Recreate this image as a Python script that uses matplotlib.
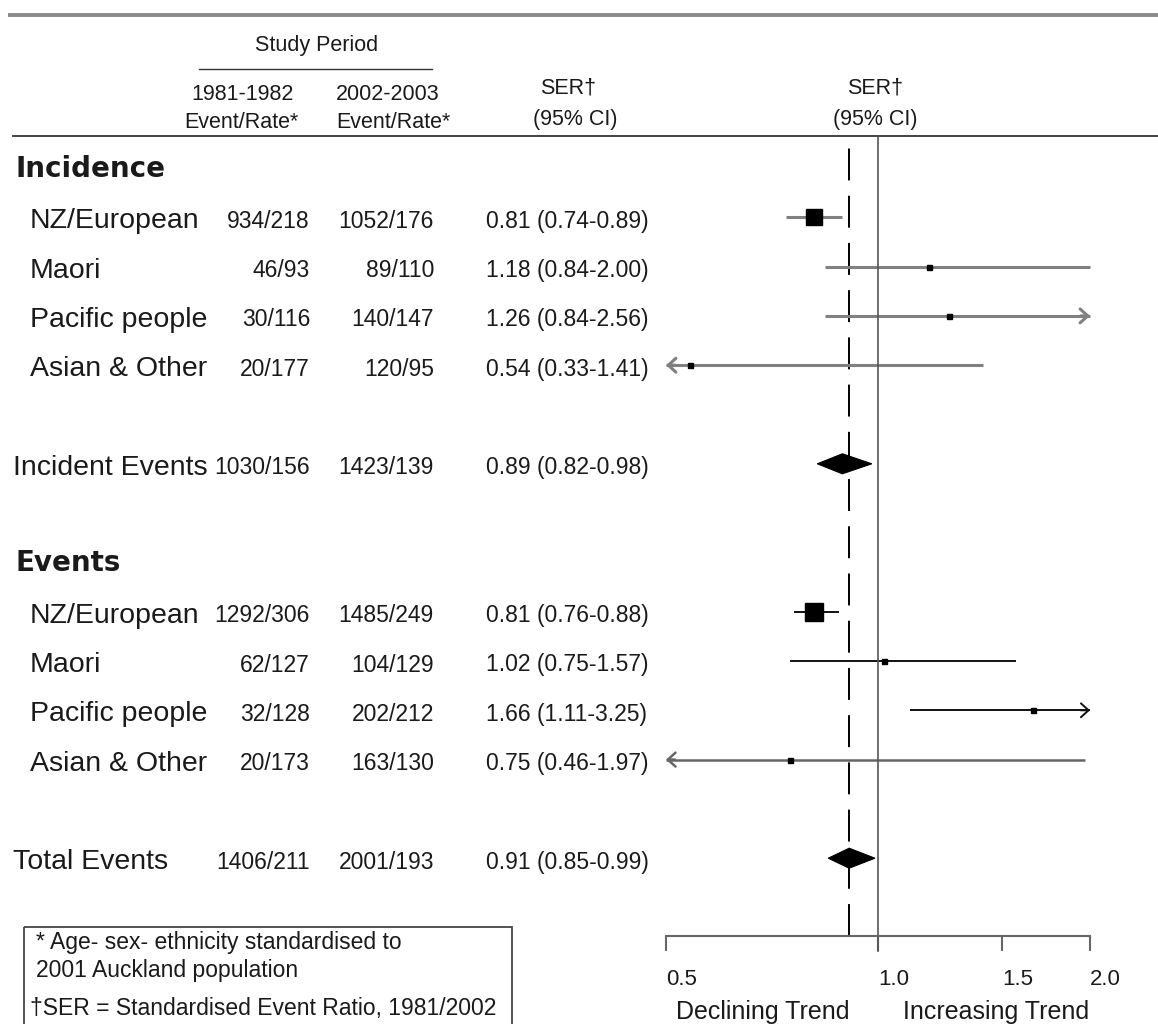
import matplotlib

matplotlib.use("Agg")
import matplotlib.pyplot as plt  # noqa: E402
import numpy as np  # noqa: E402
from matplotlib.patches import Polygon, Rectangle  # noqa: E402
from matplotlib.ticker import FixedLocator, NullLocator  # noqa: E402

plt.rcParams["font.family"] = ["Liberation Sans", "DejaVu Sans"]
plt.rcParams["lines.scale_dashes"] = False

# ---- data -------------------------------------------------------------
ethnicities = ["NZ/European", "Maori", "Pacific people", "Asian & Other"]

# Incidence (first events)
inc_n_1981 = [934, 46, 30, 20]
inc_rate_1981 = [218, 93, 116, 177]
inc_n_2002 = [1052, 89, 140, 120]
inc_rate_2002 = [176, 110, 147, 95]
inc_ser = [0.81, 1.18, 1.26, 0.54]
inc_lo = [0.74, 0.84, 0.84, 0.33]
inc_hi = [0.89, 2.00, 2.56, 1.41]
inc_total = ("Incident Events", 1030, 156, 1423, 139, 0.89, 0.82, 0.98)

# All events
ev_n_1981 = [1292, 62, 32, 20]
ev_rate_1981 = [306, 127, 128, 173]
ev_n_2002 = [1485, 104, 202, 163]
ev_rate_2002 = [249, 129, 212, 130]
ev_ser = [0.81, 1.02, 1.66, 0.75]
ev_lo = [0.76, 0.75, 1.11, 0.46]
ev_hi = [0.88, 1.57, 3.25, 1.97]
ev_total = ("Total Events", 1406, 211, 2001, 193, 0.91, 0.85, 0.99)

x_ticks = [0.5, 1.0, 1.5, 2.0]
x_lim = (0.5, 2.0)

# ---- layout (pixel coordinates, y grows downwards) --------------------
W, H = 1158, 1024
ROW0, ROWH = 168, 49.3
TXT = "#1a1a1a"


def row_y(i):
    return ROW0 + i * ROWH


fig = plt.figure(figsize=(W / 100, H / 100), dpi=100)
page = fig.add_axes([0, 0, 1, 1])
page.set_xlim(0, W)
page.set_ylim(H, 0)
page.axis("off")

# forest panel shares the pixel y-coords of the page
f_left, f_right, f_top, f_bot = 666, 1090, 136, 936
fax = fig.add_axes([f_left / W, 1 - f_bot / H, (f_right - f_left) / W, (f_bot - f_top) / H])
fax.set_facecolor("none")
fax.set_xscale("log", base=2)
fax.set_xlim(*x_lim)
fax.set_ylim(f_bot, f_top)

# rules
page.plot([8, W], [15, 15], color="#8a8a8a", lw=2.8, solid_capstyle="butt")
page.plot([13, W], [136, 136], color="#333333", lw=1.3)
page.plot([199, 432], [69, 69], color="#333333", lw=1.0)

# column headers
hdr = dict(fontsize=15.5, color=TXT, ha="center", va="center")
page.text(317, 45, "Study Period", **hdr)
page.text(243, 95, "1981-1982", **hdr)
page.text(241, 123, "Event/Rate*", **hdr)
page.text(388, 95, "2002-2003", **hdr)
page.text(393, 123, "Event/Rate*", **hdr)
page.text(568, 88, "SER\u2020", **hdr)
page.text(575, 120, "(95% CI)", **hdr)
page.text(875, 88, "SER\u2020", **hdr)
page.text(875, 120, "(95% CI)", **hdr)


def draw_block(base, title, n81, r81, n02, r02, ser, lo, hi, total, ci_styles):
    page.text(15, row_y(base) + 1, title, family="DejaVu Sans", fontweight="bold",
              fontsize=20, color=TXT, va="center")
    for i, name in enumerate(ethnicities):
        y = row_y(base + 1 + i)
        ty = y + 4
        page.text(30, ty, name, fontsize=20.5, color=TXT, va="center")
        page.text(310, ty, f"{n81[i]}/{r81[i]}", fontsize=16.5, color=TXT, va="center", ha="right")
        page.text(434, ty, f"{n02[i]}/{r02[i]}", fontsize=16.5, color=TXT, va="center", ha="right")
        page.text(486, ty, f"{ser[i]:.2f} ({lo[i]:.2f}-{hi[i]:.2f})", fontsize=16.5,
                  color=TXT, va="center")

        col, lw = ci_styles[i]
        x0, x1 = max(lo[i], x_lim[0]), min(hi[i], x_lim[1])
        fax.plot([x0, x1], [y, y], color=col, lw=lw, clip_on=False, solid_capstyle="butt")
        arrow = dict(arrowstyle="->,head_length=0.55,head_width=0.5", color=col, lw=lw,
                     shrinkA=0, shrinkB=0)
        # CI running off the scale gets an open arrowhead at the edge
        if hi[i] > x_lim[1]:
            fax.annotate("", xy=(x_lim[1], y), xytext=(x1 * 0.97, y), arrowprops=arrow,
                         annotation_clip=False)
        if lo[i] < x_lim[0]:
            fax.annotate("", xy=(x_lim[0], y), xytext=(x0 * 1.03, y), arrowprops=arrow,
                         annotation_clip=False)
        # box side scales with precision (inverse CI width on log scale)
        side = max(2.0 / (np.log(hi[i]) - np.log(lo[i])), 3.6)
        fax.plot(ser[i], y, marker="s", ms=side, color="black", mec="black", clip_on=False)

    name, a81, b81, a02, b02, s, l, h = total
    y = row_y(base + 6)
    ty = y + 4
    page.text(13, ty, name, fontsize=20.5, color=TXT, va="center")
    page.text(310, ty, f"{a81}/{b81}", fontsize=16.5, color=TXT, va="center", ha="right")
    page.text(434, ty, f"{a02}/{b02}", fontsize=16.5, color=TXT, va="center", ha="right")
    page.text(486, ty, f"{s:.2f} ({l:.2f}-{h:.2f})", fontsize=16.5, color=TXT, va="center")
    fax.add_patch(Polygon([(l, y), (s, y - 10), (h, y), (s, y + 10)], closed=True,
                          facecolor="black", edgecolor="black", lw=0.8, clip_on=False, zorder=3))


grey = ("#808080", 2.2)
black = ("#111111", 1.4)
draw_block(0, "Incidence", inc_n_1981, inc_rate_1981, inc_n_2002, inc_rate_2002,
           inc_ser, inc_lo, inc_hi, inc_total, [grey, grey, grey, grey])
draw_block(8, "Events", ev_n_1981, ev_rate_1981, ev_n_2002, ev_rate_2002,
           ev_ser, ev_lo, ev_hi, ev_total, [black, black, black, ("#666666", 1.8)])

# reference lines: null effect and pooled total estimate
fax.axvline(1.0, ymin=-15 / (f_bot - f_top), ymax=1, color="#555555", lw=1.2, clip_on=False)
fax.axvline(ev_total[5], color="black", lw=1.4, dashes=(23, 11), zorder=1)

# axis
for side in ("top", "left", "right"):
    fax.spines[side].set_visible(False)
fax.spines["bottom"].set_color("#666666")
fax.spines["bottom"].set_linewidth(1.5)
fax.yaxis.set_visible(False)
fax.xaxis.set_major_locator(FixedLocator(x_ticks))
fax.xaxis.set_minor_locator(NullLocator())
fax.set_xticklabels([f"{t:.1f}" for t in x_ticks])
fax.tick_params(axis="x", length=11, width=1.5, color="#666666", pad=13,
                labelsize=16, labelcolor=TXT)
for lbl in fax.get_xticklabels():
    lbl.set_horizontalalignment("left")

page.text(763, 1012, "Declining Trend", fontsize=18, color=TXT, ha="center", va="center")
page.text(996, 1012, "Increasing Trend", fontsize=18, color=TXT, ha="center", va="center")

# footnote box
page.add_patch(Rectangle((24, 927), 488, 130, fill=False, edgecolor="#444444", lw=1.3))
page.text(36, 942, "* Age- sex- ethnicity standardised to", fontsize=16.5, color=TXT, va="center")
page.text(36, 970, "2001 Auckland population", fontsize=16.5, color=TXT, va="center")
page.text(30, 1008, "\u2020SER = Standardised Event Ratio, 1981/2002", fontsize=16.5,
          color=TXT, va="center")

fig.savefig("out.png", dpi=100)
